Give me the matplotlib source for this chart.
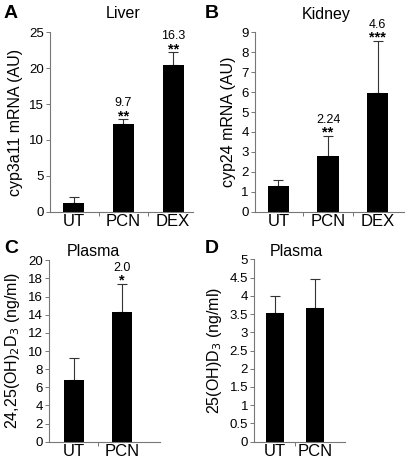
import matplotlib
matplotlib.use("Agg")
import matplotlib.pyplot as plt

plt.rcParams['font.family'] = ['Liberation Sans', 'DejaVu Sans']

# panel A - liver
liver_cats = ["UT", "PCN", "DEX"]
liver_vals = [1.25, 12.2, 20.4]
liver_err = [0.75, 0.7, 1.8]
liver_fold = ["", "9.7", "16.3"]
liver_stars = ["", "**", "**"]

# panel B - kidney
kidney_cats = ["UT", "PCN", "DEX"]
kidney_vals = [1.27, 2.81, 5.94]
kidney_err = [0.31, 1.0, 2.64]
kidney_fold = ["", "2.24", "4.6"]
kidney_stars = ["", "**", "***"]

# panel C - plasma 24,25(OH)2D3
p24_cats = ["UT", "PCN"]
p24_vals = [6.8, 14.3]
p24_err = [2.4, 3.1]
p24_fold = ["", "2.0"]
p24_stars = ["", "*"]

# panel D - plasma 25(OH)D3
p25_cats = ["UT", "PCN"]
p25_vals = [3.52, 3.67]
p25_err = [0.47, 0.78]

W, H = 406, 463
fig = plt.figure(figsize=(W / 100, H / 100), dpi=100)


def box(l, r, t, b):
    # pixel box -> figure fraction
    return [l / W, 1 - b / H, (r - l) / W, (b - t) / H]


def panel(rect, cats, vals, err, xlim, ylim, yticks, ylabel, width,
          fold=None, stars=None, ticklabels=None):
    ax = fig.add_axes(rect)
    x = list(range(len(cats)))
    ax.bar(x, vals, width=width, color="black", zorder=2)
    ax.errorbar(x, vals, yerr=[[0] * len(vals), err], fmt="none",
                ecolor="#333333", elinewidth=0.8, capsize=3.5,
                capthick=0.8, zorder=1)
    ax.set_xlim(*xlim)
    ax.set_ylim(*ylim)
    ax.set_yticks(yticks)
    if ticklabels:
        ax.set_yticklabels(ticklabels)
    ax.set_xticks(x)
    ax.set_xticklabels(cats, fontsize=12)
    ax.set_xticks([i + 0.5 for i in x[:-1]], minor=True)
    ax.tick_params(axis="x", which="major", length=0, pad=2)
    ax.tick_params(axis="x", which="minor", length=3, width=0.7,
                   color="#777777")
    ax.tick_params(axis="y", length=3, width=0.7, color="#777777",
                   labelsize=9.5, pad=1.5)
    for s in ["top", "right"]:
        ax.spines[s].set_visible(False)
    for s in ["left", "bottom"]:
        ax.spines[s].set_color("#777777")
        ax.spines[s].set_linewidth(0.8)
    ax.set_ylabel(ylabel, fontsize=11.5, labelpad=4)
    if fold:
        for i in x:
            if stars[i]:
                top = vals[i] + err[i]
                ax.annotate(stars[i], (i, top), xytext=(0, -4),
                            textcoords="offset pixels", ha="center",
                            va="bottom", fontsize=10.5, fontweight="bold")
                ax.annotate(fold[i], (i, top), xytext=(0, 10),
                            textcoords="offset pixels", ha="center",
                            va="bottom", fontsize=9)
    return ax


panel(box(50, 193, 32.3, 211.7), liver_cats, liver_vals, liver_err,
      (-0.48, 2.4), (0, 25), range(0, 26, 5), "cyp3a11 mRNA (AU)",
      0.42, liver_fold, liver_stars)
panel(box(255, 404, 32.3, 211.7), kidney_cats, kidney_vals, kidney_err,
      (-0.47, 2.53), (0, 9), range(0, 10), "cyp24 mRNA (AU)",
      0.43, kidney_fold, kidney_stars)
panel(box(49, 160, 260.3, 441.7), p24_cats, p24_vals, p24_err,
      (-0.51, 1.78), (0, 20), range(0, 21, 2),
      r"24,25(OH)$_2$D$_3$ (ng/ml)", 0.42, p24_fold, p24_stars)
p25_ticks = [0, 0.5, 1, 1.5, 2, 2.5, 3, 3.5, 4, 4.5, 5]
panel(box(254.3, 345, 259.3, 441.7), p25_cats, p25_vals, p25_err,
      (-0.52, 1.75), (0, 5), p25_ticks, r"25(OH)D$_3$ (ng/ml)", 0.45,
      ticklabels=["0", "0.5", "1", "1.5", "2", "2.5", "3", "3.5", "4",
                  "4.5", "5"])

# titles and panel letters
fig.text(123 / W, 1 - 14 / H, "Liver", fontsize=11.5, ha="center", va="center")
fig.text(326 / W, 1 - 14 / H, "Kidney", fontsize=11.5, ha="center", va="center")
fig.text(93 / W, 1 - 252 / H, "Plasma", fontsize=11.5, ha="center", va="center")
fig.text(296 / W, 1 - 252 / H, "Plasma", fontsize=11.5, ha="center", va="center")
for lx, ly, letter in [(4, 14, "A"), (205, 14, "B"), (4, 248, "C"), (205, 248, "D")]:
    fig.text(lx / W, 1 - ly / H, letter, fontsize=14, fontweight="bold",
             ha="left", va="center")

fig.savefig("out.png", dpi=100)
